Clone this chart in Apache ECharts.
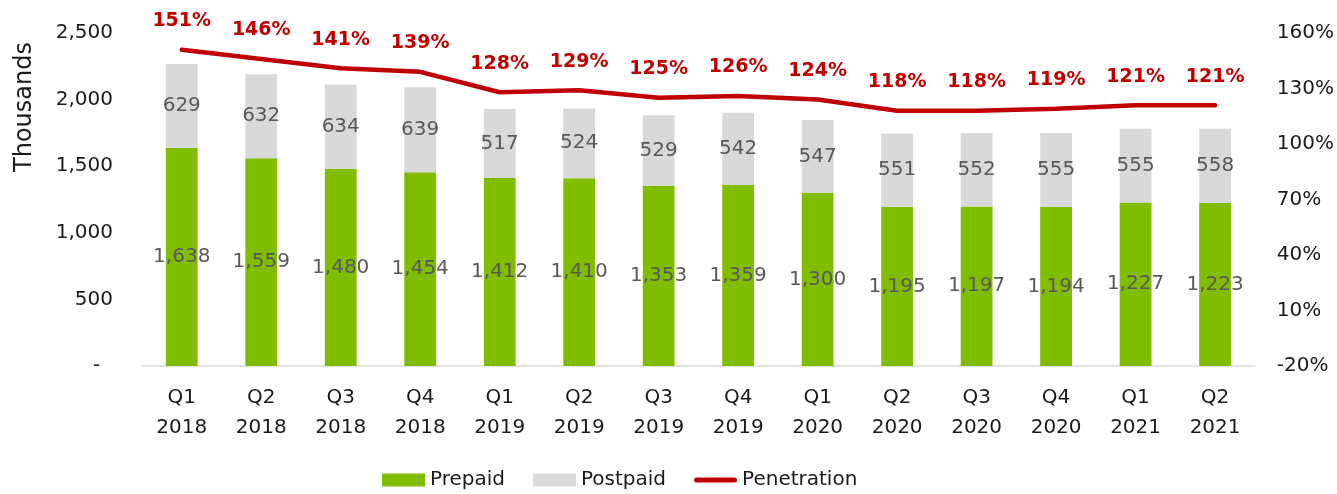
<!DOCTYPE html>
<html>
<head>
<meta charset="utf-8">
<script src="https://cdn.jsdelivr.net/npm/echarts@6/dist/echarts.min.js"></script>
<style>
  html, body { margin: 0; padding: 0; background: #fff; }
  #chart { width: 1337px; height: 494px; }
</style>
</head>
<body>
<div id="chart"></div>
<script>
// 数据
var categories = ['Q1\n2018', 'Q2\n2018', 'Q3\n2018', 'Q4\n2018', 'Q1\n2019', 'Q2\n2019', 'Q3\n2019',
  'Q4\n2019', 'Q1\n2020', 'Q2\n2020', 'Q3\n2020', 'Q4\n2020', 'Q1\n2021', 'Q2\n2021']
var prepaid = [1638, 1559, 1480, 1454, 1412, 1410, 1353, 1359, 1300, 1195, 1197, 1194, 1227, 1223]
var postpaid = [629, 632, 634, 639, 517, 524, 529, 542, 547, 551, 552, 555, 555, 558]
var penetration = [151, 146, 141, 139, 128, 129, 125, 126, 124, 118, 118, 119, 121, 121]

var FONT = 'DejaVu Sans'
var TEXT = '#1a1a1a'
// 图例里的折线图标（圆头粗线）
var LINE_ICON = 'path://M0,0 M0,13 M2.5,4 L40.5,4 A2.5,2.5 0 0 1 40.5,9 L2.5,9 A2.5,2.5 0 0 1 2.5,4 Z'

function fmtThousands(v) {
  if (v === 0) return '-  '
  return String(v).replace(/\B(?=(\d{3})+(?!\d))/g, ',')
}

var chart = echarts.init(document.getElementById('chart'))
var options = {
  animation: false,
  textStyle: { fontFamily: FONT },
  grid: { left: 142, right: 79, top: 33, bottom: 128 },
  legend: {
    top: 465,
    left: 377,
    itemWidth: 43,
    itemHeight: 13,
    itemGap: 28,
    textStyle: { fontSize: 20, color: TEXT, fontFamily: FONT },
    data: [
      { name: 'Prepaid', icon: 'rect' },
      { name: 'Postpaid', icon: 'rect' },
      { name: 'Penetration', icon: LINE_ICON }
    ]
  },
  graphic: [{
    type: 'text',
    x: 25,
    y: 107,
    rotation: Math.PI / 2,
    style: {
      text: 'Thousands',
      fontSize: 24,
      fontFamily: FONT,
      fill: TEXT,
      align: 'center',
      verticalAlign: 'middle'
    }
  }],
  xAxis: [{
    type: 'category',
    data: categories,
    axisTick: { show: false },
    axisLine: { lineStyle: { color: '#d9d9d9', width: 1.5 } },
    axisLabel: { color: TEXT, fontSize: 20, lineHeight: 30, margin: 17, interval: 0 }
  }],
  yAxis: [{
    type: 'value',
    min: 0,
    max: 2500,
    interval: 500,
    splitLine: { show: false },
    axisLine: { show: false },
    axisTick: { show: false },
    axisLabel: { color: TEXT, fontSize: 20, margin: 29, formatter: fmtThousands }
  }, {
    type: 'value',
    min: -20,
    max: 160,
    interval: 30,
    splitLine: { show: false },
    axisLine: { show: false },
    axisTick: { show: false },
    axisLabel: { color: TEXT, fontSize: 20, margin: 22, formatter: '{value}%' }
  }],
  series: [{
    name: 'Prepaid',
    type: 'bar',
    stack: 'subs',
    barWidth: '40%',
    data: prepaid,
    itemStyle: { color: '#80BC00' },
    label: {
      show: true,
      position: 'inside',
      color: '#595959',
      fontSize: 20,
      formatter: function (p) { return fmtThousands(p.value) }
    }
  }, {
    name: 'Postpaid',
    type: 'bar',
    stack: 'subs',
    barWidth: '40%',
    data: postpaid,
    itemStyle: { color: '#D9D9D9' },
    label: {
      show: true,
      position: 'inside',
      color: '#595959',
      fontSize: 20,
      formatter: function (p) { return fmtThousands(p.value) }
    }
  }, {
    name: 'Penetration',
    type: 'line',
    yAxisIndex: 1,
    data: penetration,
    showSymbol: true,
    symbol: 'circle',
    symbolSize: 0,
    lineStyle: { color: '#C00000', width: 4.5, cap: 'round', join: 'round' },
    itemStyle: { color: '#C00000' },
    label: {
      show: true,
      position: 'top',
      distance: 19,
      color: '#C00000',
      fontWeight: 'bold',
      fontSize: 19,
      formatter: '{c}%'
    }
  }]
}
chart.setOption(options)
</script>
</body>
</html>
